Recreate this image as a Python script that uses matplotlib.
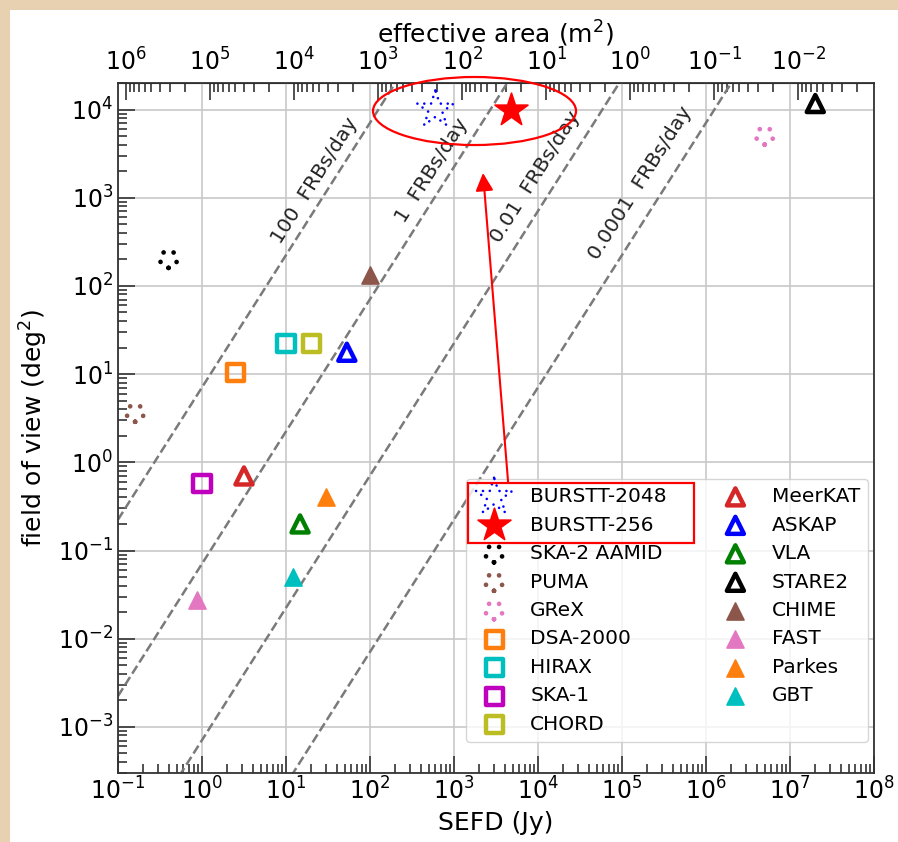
import numpy as np
import matplotlib.pyplot as plt
from matplotlib.patches import Ellipse, Rectangle

# telescopes: SEFD (Jy) and field of view (deg^2)
names = ['BURSTT-2048', 'BURSTT-256', 'SKA-2 AAMID', 'PUMA', 'GReX',
         'DSA-2000', 'HIRAX', 'SKA-1', 'CHORD',
         'MeerKAT', 'ASKAP', 'VLA', 'STARE2', 'CHIME', 'FAST', 'Parkes', 'GBT']
sefd = [600, 4800, 0.40, 0.16, 5.0e6,
        2.5, 10, 1.0, 20,
        3.16, 53, 14.7, 2.0e7, 100, 0.87, 30, 12]
fov = [1.0e4, 1.0e4, 200, 3.6, 5000,
       10.5, 22.4, 0.58, 22.4,
       0.70, 17.7, 0.2, 1.17e4, 132, 0.0276, 0.40, 0.05]

# FRB rate lines: FoV = rate * SEFD^1.5 / norm
rates = [100, 1, 0.01, 0.0001]
rate_labels = ['100  FRBs/day', '1  FRBs/day', '0.01  FRBs/day', '0.0001  FRBs/day']
rate_label_sefd = [22, 547, 9200, 1.64e5]
rate_label_fov = [1570, 2040, 1740, 1480]
rate_norm = 10 ** 1.15

# effective area = C / SEFD
area_const = 1.25e5

xticks = [10.0 ** k for k in range(-1, 9)]
yticks = [10.0 ** k for k in range(-3, 5)]
area_ticks = [10.0 ** k for k in range(6, -3, -1)]

# marker styles (marker, colour, filled, dotted)
styles = {
    'BURSTT-2048': ('*', 'b', False, True),
    'BURSTT-256': ('*', 'r', True, False),
    'SKA-2 AAMID': ('o', 'k', False, True),
    'PUMA': ('o', 'tab:brown', False, True),
    'GReX': ('o', 'tab:pink', False, True),
    'DSA-2000': ('s', 'tab:orange', False, False),
    'HIRAX': ('s', 'c', False, False),
    'SKA-1': ('s', 'm', False, False),
    'CHORD': ('s', 'tab:olive', False, False),
    'MeerKAT': ('^', 'tab:red', False, False),
    'ASKAP': ('^', 'b', False, False),
    'VLA': ('^', 'g', False, False),
    'STARE2': ('^', 'k', False, False),
    'CHIME': ('^', 'tab:brown', True, False),
    'FAST': ('^', 'tab:pink', True, False),
    'Parkes': ('^', 'tab:orange', True, False),
    'GBT': ('^', 'c', True, False),
}

fig = plt.figure(figsize=(8.98, 8.42), dpi=100)
fig.patch.set_facecolor('#e8d1b0')
fig.add_artist(Rectangle((10 / 898, 0), 1, 832 / 842, transform=fig.transFigure,
                         facecolor='white', edgecolor='none', zorder=-10))

ax = fig.add_axes([118 / 898, 69 / 842, 756 / 898, 690 / 842])
ax.set_xscale('log')
ax.set_yscale('log')
ax.set_xticks(xticks)
ax.set_yticks(yticks)
ax.set_xlim(0.1, 1e8)
ax.set_ylim(3e-4, 2e4)
ax.grid(True, which='major', color='#c8c8c8', lw=1.2)
ax.set_axisbelow(True)

s_line = np.logspace(-1, 8, 300)
for r, txt, lx, ly in zip(rates, rate_labels, rate_label_sefd, rate_label_fov):
    ax.plot(s_line, r * s_line ** 1.5 / rate_norm, '--', color='#7a7a7a', lw=1.8, zorder=2)
    ax.text(lx, ly, txt, rotation=57.7, rotation_mode='anchor', ha='center', va='center',
            fontsize=14.5, color='#222222')

dotted_names = []
for n, x, y in zip(names, sefd, fov):
    m, c, filled, dotted = styles[n]
    if m == '*':
        size = 620 if filled else 760
    else:
        size = 150
    if filled:
        ax.scatter([x], [y], s=size, marker=m, c=c, edgecolors='face', linewidths=1.2,
                   label=n, zorder=4)
    elif dotted:
        lw = 1.9 if m == '*' else 3.4
        dots = (0, (0.01, 2.6)) if m == '*' else (0, (0.01, 2.25))
        sc = ax.scatter([x], [y], s=size, marker=m, facecolors='none', edgecolors=c,
                        linewidths=lw, linestyle=dots, label=n, zorder=4)
        sc.set_capstyle('round')
        dotted_names.append(n)
    else:
        ax.scatter([x], [y], s=size, marker=m, facecolors='none', edgecolors=c,
                   linewidths=3.2, label=n, zorder=4)

for side in ['top', 'bottom', 'left', 'right']:
    ax.spines[side].set_linewidth(1.3)
    ax.spines[side].set_color('#333333')
ax.tick_params(which='both', direction='in', labelsize=17, width=1.2, color='#333333')
ax.tick_params(which='major', length=12)
ax.tick_params(which='minor', length=6.5)
ax.set_xlabel('SEFD (Jy)', fontsize=18, labelpad=4)
ax.set_ylabel('field of view (deg$^2$)', fontsize=18, labelpad=6)


def to_area(x):
    x = np.asarray(x, dtype=float)
    with np.errstate(divide='ignore'):
        return area_const / x


secax = ax.secondary_xaxis('top', functions=(to_area, to_area))
secax.set_xticks(area_ticks)
secax.tick_params(which='both', direction='in', labelsize=17, width=1.2, color='#333333', pad=5)
secax.tick_params(which='major', length=12)
secax.tick_params(which='minor', length=6.5)
secax.set_xlabel('effective area (m$^2$)', fontsize=18, labelpad=4)

leg = ax.legend(ncol=2, loc='lower right', bbox_to_anchor=(0.992, 0.045), borderaxespad=0,
                fontsize=14.5, labelspacing=0.47, columnspacing=2.4, scatterpoints=1)
for h, t in zip(leg.legend_handles, leg.get_texts()):
    if t.get_text() in dotted_names:
        h.set_capstyle('round')

# red highlight marks
ax.add_patch(Ellipse((0.4716, 0.9594), 0.2685, 0.0986, transform=ax.transAxes,
                     fill=False, ec='red', lw=1.6, clip_on=False, zorder=6))
ax.add_patch(Rectangle((0.463, 0.333), 0.299, 0.088, transform=ax.transAxes,
                       fill=False, ec='red', lw=1.6, clip_on=False, zorder=7))
ax.annotate('', xy=(0.4828, 0.8696), xytext=(0.516, 0.4217), xycoords='axes fraction',
            arrowprops=dict(arrowstyle='-|>', color='red', lw=1.5, mutation_scale=27,
                            shrinkA=0, shrinkB=0), zorder=7)

fig.savefig('out.png', dpi=100, facecolor=fig.get_facecolor())
